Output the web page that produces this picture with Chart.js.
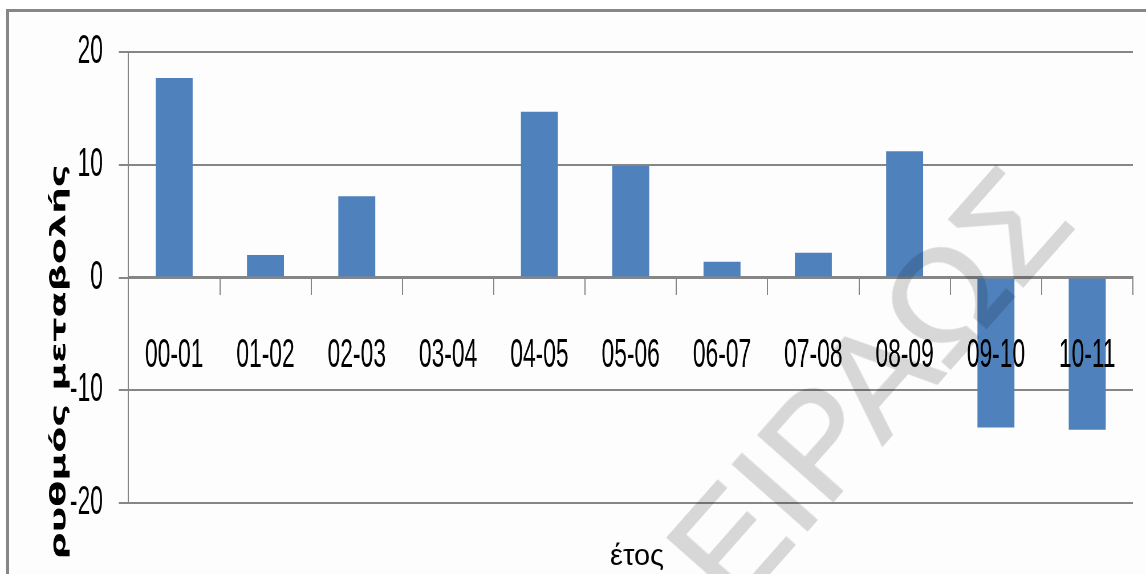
<!DOCTYPE html>
<html>
<head>
<meta charset="utf-8">
<script src="https://cdn.jsdelivr.net/npm/chart.js@4/dist/chart.umd.min.js"></script>
<style>
  html, body { margin: 0; padding: 0; background: #ffffff; overflow: hidden; }
  #page { position: relative; width: 1146px; height: 574px; overflow: hidden; background: #ffffff; }
  #frame { position: absolute; left: 6px; top: 9px; width: 1300px; height: 800px;
           border: 3px solid #878787; background: #fdfdfd; }
  /* the chart is drawn wide and squeezed horizontally */
  #squeeze { position: absolute; left: 0; top: 0; width: 2010px; height: 574px;
             transform: scaleX(0.570149); transform-origin: 0 0; }
  #xtitle { position: absolute; left: 637px; top: 555px; transform: translate(-50%, -50%);
            font-family: "Liberation Sans", Arial, sans-serif; font-size: 29px; color: #000;
            white-space: nowrap; line-height: 1; }
  #mark { position: absolute; left: 869px; top: 386px; transform: translate(-50%, -50%) rotate(-48.5deg);
          font-family: "Liberation Sans", Arial, sans-serif; font-weight: normal; font-size: 145px;
          color: #d9d9d9; -webkit-text-stroke: 2px #d9d9d9; mix-blend-mode: multiply;
          white-space: nowrap; pointer-events: none; line-height: 1; }
</style>
</head>
<body>
<div id="page">
  <div id="frame"></div>
  <div id="squeeze"><canvas id="chart" width="2010" height="574" style="width:2010px;height:574px"></canvas></div>
  <div id="xtitle">έτος</div>
  <div id="mark">ΕΙΡΑΩΣ</div>
</div>
<script>
// Annual rate of change per academic year
const periods = ['00-01', '01-02', '02-03', '03-04', '04-05', '05-06', '06-07', '07-08', '08-09', '09-10', '10-11'];
const changeRate = [17.7, 2.0, 7.2, 0, 14.7, 9.9, 1.4, 2.2, 11.2, -13.3, -13.5];
const yTickValues = [-20, -10, 0, 10, 20];
const yAxisTitle = 'ρυθμός μεταβολής';

const gridGray = '#868686';

// rotated y-axis title, placed beside the axis and lower than its centre
const yTitlePlugin = {
  id: 'yTitle',
  afterDraw(chart) {
    const ctx = chart.ctx;
    ctx.save();
    ctx.translate(104, 362);
    ctx.rotate(-Math.PI / 2);
    ctx.font = 'bold 38px "DejaVu Sans", sans-serif';
    ctx.fillStyle = '#000';
    ctx.textAlign = 'center';
    ctx.textBaseline = 'middle';
    ctx.fillText(yAxisTitle, 0, 0);
    ctx.restore();
  }
};

new Chart(document.getElementById('chart'), {
  type: 'bar',
  data: {
    labels: periods,
    datasets: [{
      data: changeRate,
      backgroundColor: '#4F81BD',
      borderWidth: 0,
      barPercentage: 0.405,
      categoryPercentage: 1
    }]
  },
  options: {
    responsive: false,
    animation: false,
    events: [],
    layout: { padding: { left: 0, right: 23, top: 52, bottom: 71 } },
    plugins: { legend: { display: false }, tooltip: { enabled: false } },
    scales: {
      x: {
        position: { y: 0 },
        offset: true,
        grid: { offset: true, drawOnChartArea: false, drawTicks: true, tickLength: 16,
                color: gridGray, lineWidth: 2 },
        border: { display: true, color: gridGray, width: 3 },
        // labels sit above the bars
        ticks: { z: 1, color: '#000', font: { family: '"Liberation Sans", Arial, sans-serif', size: 40 },
                 padding: 38, maxRotation: 0, minRotation: 0, autoSkip: false }
      },
      y: {
        min: -20,
        max: 20,
        afterFit(scale) { scale.width = 225.4; },
        afterBuildTicks(scale) { scale.ticks = yTickValues.map(v => ({ value: v })); },
        grid: { color: gridGray, lineWidth: 2, tickLength: 17 },
        border: { display: true, color: gridGray, width: 2 },
        ticks: { color: '#000', font: { family: '"Liberation Sans", Arial, sans-serif', size: 40 },
                 padding: 28 }
      }
    }
  },
  plugins: [yTitlePlugin]
});
</script>
</body>
</html>
